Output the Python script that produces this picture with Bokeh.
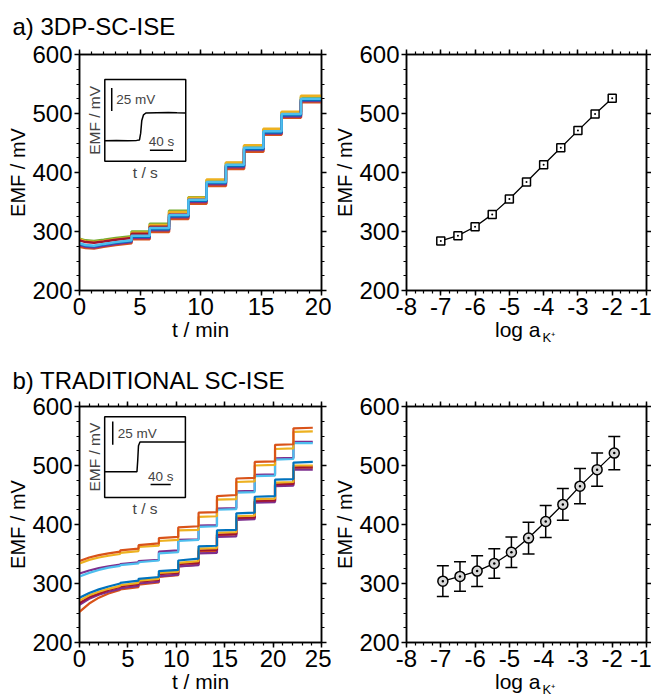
import math
from bokeh.plotting import figure
from bokeh.models import (Range1d, LinearAxis, SingleIntervalTicker, ColumnDataSource,
                          Whisker, TeeHead, BoxAnnotation, Label, Title, CustomJSTickFormatter)
from bokeh.layouts import column, row
from bokeh.embed import file_html
from bokeh.resources import INLINE

FONT = "Liberation Sans"

C_BLUE = "#0072BD"; C_ORANGE = "#D95319"; C_YELLOW = "#EDB120"; C_PURPLE = "#7E2F8E"
C_GREEN = "#77AC30"; C_LBLUE = "#4DBEEE"; C_RED = "#A2142F"

# ---------------- panel a: time traces (3DP-SC-ISE) ----------------
a_seg0_t = [0.0, 0.5, 1.2, 2.0, 3.0, 4.3]
a_bounds = [4.3, 5.8, 7.4, 9.0, 10.5, 12.1, 13.6, 15.2, 16.7, 18.3, 20.0]
a_green_seg0 = [288, 285, 284, 286, 289, 292]
a_green_lv = [300, 313, 335, 358, 387, 416, 445, 473, 502, 528]
a_yellow_seg0 = [287, 283, 282, 284, 287, 290]
a_yellow_lv = [298, 311, 333, 357, 388, 417, 446, 474, 503, 530]
a_orange_seg0 = [274, 272, 271, 274, 277, 280]
a_orange_lv = [287, 299, 321, 347, 377, 406, 435, 464, 493, 519]
a_red_seg0 = [285, 282, 281, 283, 286, 289]
a_red_lv = [296, 308, 329, 354, 383, 412, 441, 469, 498, 524]
a_purple_seg0 = [277, 274, 273, 276, 279, 282]
a_purple_lv = [289, 302, 324, 350, 380, 409, 438, 466, 495, 521]
a_blue_seg0 = [279, 276, 275, 278, 281, 284]
a_blue_lv = [291, 304, 326, 352, 382, 411, 440, 468, 497, 523]
a_lblue_seg0 = [280, 277, 276, 279, 282, 285]
a_lblue_lv = [293, 306, 328, 354, 384, 413, 442, 470, 499, 525]

# ---------------- panel b: time traces (traditional SC-ISE) ----------------
b_seg0_t = [0.0, 1.0, 2.0, 3.0, 4.2]
b_bounds = [4.2, 6.1, 8.2, 10.2, 12.3, 14.2, 16.2, 18.1, 20.2, 22.1, 24.1]
b_orange_top_seg0 = [338, 344, 348, 351, 354]
b_orange_top_start = [356, 365, 377, 395, 420, 448, 478, 506, 535, 563]
b_orange_top_end = [359, 368, 379, 397, 421, 450, 479, 507, 536, 564]
b_yellow_top_seg0 = [334, 340, 344, 347, 350]
b_yellow_top_start = [352, 362, 372, 390, 413, 442, 472, 500, 528, 557]
b_yellow_top_end = [355, 364, 374, 391, 414, 443, 473, 501, 529, 558]
b_purple_mid_seg0 = [317, 322, 326, 329, 332]
b_purple_mid_start = [333, 338, 354, 374, 398, 427, 456, 484, 512, 540]
b_purple_mid_end = [336, 340, 356, 375, 399, 428, 457, 485, 513, 540]
b_lblue_mid_seg0 = [312, 318, 323, 327, 330]
b_lblue_mid_start = [331, 336, 351, 372, 396, 425, 454, 482, 510, 538]
b_lblue_mid_end = [334, 339, 353, 374, 397, 426, 455, 483, 511, 538]
b_blue_bot_seg0 = [276, 284, 290, 295, 300]
b_blue_bot_start = [301, 308, 321, 339, 363, 390, 419, 447, 476, 505]
b_blue_bot_end = [305, 311, 323, 342, 364, 391, 420, 448, 477, 506]
b_yellow_bot_seg0 = [271, 280, 286, 291, 296]
b_yellow_bot_start = [297, 305, 318, 335, 359, 386, 414, 443, 471, 500]
b_yellow_bot_end = [301, 308, 320, 338, 360, 387, 415, 444, 472, 500]
b_red_bot_seg0 = [267, 277, 283, 289, 294]
b_red_bot_start = [295, 303, 316, 333, 356, 383, 411, 440, 468, 497]
b_red_bot_end = [299, 306, 318, 335, 357, 384, 412, 441, 469, 498]
b_purple_bot_seg0 = [264, 274, 281, 286, 291]
b_purple_bot_start = [292, 300, 312, 329, 351, 379, 408, 437, 465, 493]
b_purple_bot_end = [296, 303, 315, 331, 352, 380, 409, 438, 466, 493]
b_orange_bot_seg0 = [252, 266, 276, 283, 289]
b_orange_bot_start = [290, 298, 311, 329, 354, 382, 410, 439, 467, 496]
b_orange_bot_end = [294, 302, 314, 332, 355, 383, 411, 440, 468, 496]

# ---------------- calibration curves ----------------
cal_a_x = [-7.0, -6.5, -6.0, -5.5, -5.0, -4.5, -4.0, -3.5, -3.0, -2.5, -2.0]
cal_a_y = [284, 293, 308, 329, 355, 384, 413, 442, 471, 499, 526]
cal_a_err = [2, 2, 2, 2, 2, 2, 2, 2, 2, 2, 2]
cal_b_x = [-6.94, -6.44, -5.94, -5.44, -4.94, -4.44, -3.94, -3.44, -2.94, -2.44, -1.94]
cal_b_y = [304, 312, 321, 334, 353, 377, 405, 434, 465, 493, 521]
cal_b_err = [26, 25, 26, 25, 26, 27, 27, 27, 30, 28, 28]

# ---------------- insets (time in s, EMF relative in mV) ----------------
inset_a_t = [0, 20, 40, 55, 60, 62, 64, 67, 71, 90, 110, 125, 140]
inset_a_v = [0, 0.4, 0.1, 0.5, 1.0, 8, 22, 28, 30, 30.3, 30.6, 30.2, 30]
inset_b_t = [0, 30, 64, 65.5, 67, 70, 100, 130, 160]
inset_b_v = [0, 0, 0, 12, 28, 32, 32, 32, 32]
scale_mv = 25
scale_s = 40

TICK_FS = "24px"
EMPTY = CustomJSTickFormatter(code="return ''")
HYPHEN = CustomJSTickFormatter(code="return tick.toString()")


def style_axis(ax, labels=True):
    ax.axis_line_color = "black"
    ax.axis_line_width = 1.5
    ax.major_tick_line_color = "black"
    ax.major_tick_line_width = 1.5
    ax.minor_tick_line_color = "black"
    ax.minor_tick_line_width = 1.2
    ax.major_tick_out = 5
    ax.major_tick_in = 0
    ax.minor_tick_out = 3
    ax.minor_tick_in = 0
    ax.major_label_text_font = FONT
    ax.major_label_text_color = "black"
    ax.axis_label_text_font = FONT
    ax.axis_label_text_font_style = "normal"
    ax.axis_label_text_color = "black"
    if labels:
        ax.major_label_text_font_size = TICK_FS
        ax.major_label_standoff = 2
        ax.axis_label_standoff = 0
    else:
        ax.formatter = EMPTY
        ax.major_label_text_font_size = "1px"
        ax.major_label_standoff = 0
        ax.axis_label_standoff = 0


def make_fig(xr, xint, xminor, xlabel, w, h, mbl, mbr, mbt, mbb, title=None, title_standoff=16):
    p = figure(width=w, height=h, x_range=Range1d(*xr), y_range=Range1d(200, 600),
               output_backend="svg", toolbar_location=None,
               min_border_left=mbl, min_border_right=mbr,
               min_border_top=mbt, min_border_bottom=mbb, title=title)
    p.xgrid.visible = False
    p.ygrid.visible = False
    p.outline_line_color = "black"
    p.outline_line_width = 1.5
    p.background_fill_color = "white"
    p.border_fill_color = "white"
    xax = p.below[0]
    yax = p.left[0]
    xax.ticker = SingleIntervalTicker(interval=xint, num_minor_ticks=xminor)
    yax.ticker = SingleIntervalTicker(interval=100, num_minor_ticks=4)
    style_axis(xax)
    style_axis(yax)
    xax.formatter = HYPHEN
    xax.axis_label = xlabel
    xax.axis_label_text_font_size = "21px"
    yax.axis_label = "EMF / mV"
    yax.axis_label_text_font_size = "20px"
    top = LinearAxis(ticker=SingleIntervalTicker(interval=xint, num_minor_ticks=xminor))
    right = LinearAxis(ticker=SingleIntervalTicker(interval=100, num_minor_ticks=4))
    style_axis(top, labels=False)
    style_axis(right, labels=False)
    p.add_layout(top, "above")
    p.add_layout(right, "right")
    if title is not None:
        p.title.text_font = FONT
        p.title.text_font_size = "24px"
        p.title.text_font_style = "normal"
        p.title.text_color = "black"
        p.title.offset = -67
        p.title.standoff = title_standoff
    return p


def step_xy(seg0_t, seg0_v, bounds, starts, ends):
    xs = list(seg0_t)
    ys = list(seg0_v)
    for i in range(len(starts)):
        xs += [bounds[i], bounds[i + 1]]
        ys += [starts[i], ends[i]]
    return xs, ys


def add_inset(p, box_main, main_x, main_y, ext, t, v, bar_v, bar_h, lbl25):
    (bx0, bx1, by0, by1) = box_main
    (ix0, ix1, iy0, iy1) = ext
    kx = (ix1 - ix0) / (bx1 - bx0)
    ky = (iy1 - iy0) / (by1 - by0)
    p.extra_x_ranges = {"ix": Range1d(ix0 - (bx0 - main_x[0]) * kx, ix1 + (main_x[1] - bx1) * kx)}
    p.extra_y_ranges = {"iy": Range1d(iy0 - (by0 - main_y[0]) * ky, iy1 + (main_y[1] - by1) * ky)}
    rn = dict(x_range_name="ix", y_range_name="iy")
    p.add_layout(BoxAnnotation(left=ix0, right=ix1, bottom=iy0, top=iy1, fill_alpha=0,
                               line_color="black", line_alpha=1.0, line_width=1.5, **rn))
    p.line(t, v, color="black", line_width=1.5, **rn)
    vx, vy0 = bar_v
    p.segment(x0=[vx], y0=[vy0], x1=[vx], y1=[vy0 + scale_mv], color="black", line_width=1.5, **rn)
    hx0, hy = bar_h
    p.segment(x0=[hx0], y0=[hy], x1=[hx0 + scale_s], y1=[hy], color="black", line_width=1.5, **rn)
    p.add_layout(Label(x=lbl25[0], y=lbl25[1], text="25 mV", text_font=FONT, text_font_size="13.5px",
                       text_baseline="middle", text_align="left", **rn))
    p.add_layout(Label(x=hx0 + scale_s / 2, y=hy, text="40 s", text_font=FONT, text_font_size="13.5px",
                       text_baseline="bottom", text_align="center", y_offset=1, **rn))
    p.add_layout(Label(x=ix0, y=(iy0 + iy1) / 2, text="EMF / mV", angle=math.pi / 2,
                       text_font=FONT, text_font_size="15.5px", text_align="center",
                       text_baseline="bottom", x_offset=-2, **rn))
    p.add_layout(Label(x=(ix0 + ix1) / 2, y=iy0, text="t / s", text_font=FONT, text_font_size="15.5px",
                       text_align="center", text_baseline="top", y_offset=-3, **rn))


def add_cal(p, xs, ys, errs, marker, size, fill, head):
    src = ColumnDataSource(dict(x=xs, y=ys,
                                lo=[y - e for y, e in zip(ys, errs)],
                                hi=[y + e for y, e in zip(ys, errs)]))
    p.line("x", "y", source=src, color="black", line_width=1.3)
    p.add_layout(Whisker(source=src, base="x", lower="lo", upper="hi", line_color="black",
                         line_width=1.5, level="underlay",
                         upper_head=TeeHead(size=head, line_width=1.5, line_color="black"),
                         lower_head=TeeHead(size=head, line_width=1.5, line_color="black")))
    p.scatter("x", "y", source=src, marker=marker, size=size, fill_color=fill,
              line_color="black", line_width=1.5)


def k_label(p):
    p.below[0].axis_label = "log a\u00a0\u00a0\u00a0"
    p.below[0].axis_label_text_font_size = "21px"
    p.add_layout(Title(text="K\u207a", align="left", offset=136, vertical_align="top",
                       standoff=-27, text_font=FONT, text_font_size="13px",
                       text_font_style="normal", text_color="black"), "below")


# layout: canvas coordinates = picture coordinates
W1, W2 = 331, 320
H1, H2 = 348, 352
ML1, MR1 = 79, 10
ML2, MR2 = 73, 5
MT1, MT2, MB = 54, 58, 58

# ---- row a
pa1 = make_fig((0, 20), 5, 5, "t / min", W1, H1, ML1, MR1, MT1, MB,
               title="a) 3DP-SC-ISE", title_standoff=19)
a_traces = [
    (a_green_seg0, a_green_lv, C_GREEN), (a_yellow_seg0, a_yellow_lv, C_YELLOW),
    (a_orange_seg0, a_orange_lv, C_ORANGE), (a_red_seg0, a_red_lv, C_RED),
    (a_purple_seg0, a_purple_lv, C_PURPLE), (a_blue_seg0, a_blue_lv, C_BLUE),
    (a_lblue_seg0, a_lblue_lv, C_LBLUE),
]
for s0, lv, col in a_traces:
    xs, ys = step_xy(a_seg0_t, s0, a_bounds, lv, lv)
    pa1.line(xs, ys, color=col, line_width=2.5)
add_inset(pa1, (2.09, 8.78, 419.0, 557.6), (0, 20), (200, 600), (0, 140, -22, 66),
          inset_a_t, inset_a_v, (12, 32), (78, -10), (20, 44.5))

pa2 = make_fig((-8, -1), 1, 4, "", W2, H1, ML2, MR2, MT1, MB)
add_cal(pa2, cal_a_x, cal_a_y, cal_a_err, "square_dot", 8, "white", 6)
k_label(pa2)

# ---- row b
pb1 = make_fig((0, 25), 5, 5, "t / min", W1, H2, ML1, MR1, MT2, MB,
               title="b) TRADITIONAL SC-ISE", title_standoff=16)
b_traces = [
    (b_orange_bot_seg0, b_orange_bot_start, b_orange_bot_end, C_ORANGE),
    (b_purple_bot_seg0, b_purple_bot_start, b_purple_bot_end, C_PURPLE),
    (b_red_bot_seg0, b_red_bot_start, b_red_bot_end, C_RED),
    (b_yellow_bot_seg0, b_yellow_bot_start, b_yellow_bot_end, C_YELLOW),
    (b_blue_bot_seg0, b_blue_bot_start, b_blue_bot_end, C_BLUE),
    (b_purple_mid_seg0, b_purple_mid_start, b_purple_mid_end, C_PURPLE),
    (b_lblue_mid_seg0, b_lblue_mid_start, b_lblue_mid_end, C_LBLUE),
    (b_yellow_top_seg0, b_yellow_top_start, b_yellow_top_end, C_YELLOW),
    (b_orange_top_seg0, b_orange_top_start, b_orange_top_end, C_ORANGE),
]
for s0, st, en, col in b_traces:
    xs, ys = step_xy(b_seg0_t, s0, b_bounds, st, en)
    pb1.line(xs, ys, color=col, line_width=2.2)
add_inset(pb1, (2.6, 10.94, 445.9, 582.5), (0, 25), (200, 600), (0, 160, -27.7, 59.1),
          inset_b_t, inset_b_v, (16, 29), (91, -13.8), (26, 41.5))

pb2 = make_fig((-8, -1), 1, 4, "", W2, H2, ML2, MR2, MT2, MB)
add_cal(pb2, cal_b_x, cal_b_y, cal_b_err, "circle_dot", 10, "#d9d9d9", 12)
k_label(pb2)

layout = column(row(pa1, pa2), row(pb1, pb2))
open("out.html", "w").write(file_html(layout, INLINE))
